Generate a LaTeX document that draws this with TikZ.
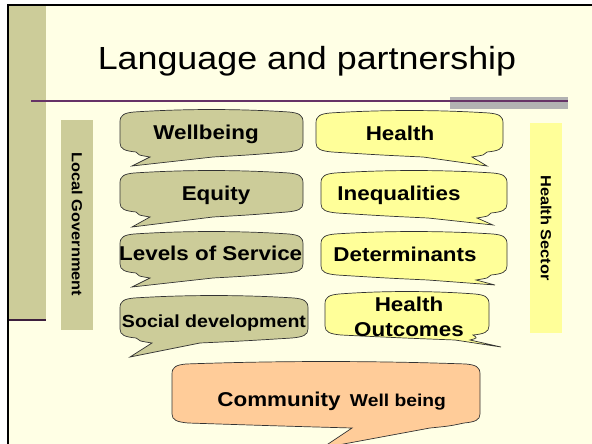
\documentclass[tikz,border=0pt]{standalone}
\usepackage{fontspec}
\setmainfont{Liberation Sans}[FakeStretch=1.12]
\usetikzlibrary{positioning}
\definecolor{slidebg}{RGB}{255,255,229}
\definecolor{govolive}{RGB}{204,204,153}
\definecolor{hlthyellow}{RGB}{255,255,153}
\definecolor{commpeach}{RGB}{255,204,153}
\definecolor{rulepurple}{RGB}{102,51,102}
\definecolor{bargray}{RGB}{178,178,178}

% speech bubble: left, top, right, bottom, right base, left base, tip x, tip y
\newcommand{\bubble}[8]{(#1,#2+12)
  .. controls (#1,#2+5) and (#1+4,#2+3) .. (#1+14,#2+2)
  .. controls ({#1+0.35*(#3-#1)},#2-1.3) and ({#3-0.35*(#3-#1)},#2-1.3) .. (#3-14,#2+2)
  .. controls (#3-4,#2+3) and (#3,#2+5) .. (#3,#2+12)
  -- (#3,#4-14)
  .. controls (#3,#4-8) and (#3-5,#4-6) .. (#3-16,#4-5)
  .. controls ({#3-0.6*(#3-#5)},#4-2) .. (#5,#4)
  -- (#7,#8) -- (#6,#4)
  .. controls ({#1+0.6*(#6-#1)},#4-2) .. (#1+16,#4-5)
  .. controls (#1+5,#4-6) and (#1,#4-8) .. (#1,#4-14)
  -- cycle}

\begin{document}
\begin{tikzpicture}[x=1pt, y=-1pt,
  bub/.style={draw=black!80, line width=0.7pt},
  govbub/.style={bub, fill=govolive},
  hlthbub/.style={bub, fill=hlthyellow},
  commbub/.style={bub, fill=commpeach},
  word/.style={anchor=base, font=\bfseries\fontsize{20}{24.3}\selectfont, align=center},
  sidebox/.style={rotate=-90, minimum width=210pt, minimum height=32pt, inner sep=0pt,
                  font=\bfseries\fontsize{14.6}{17}\selectfont}
]
\useasboundingbox (0,0) rectangle (592,444);
\clip (0,0) rectangle (592,444);

% slide background
\fill[white] (0,0) rectangle (592,444);
\fill[slidebg] (7,5) rectangle (592,444);
\fill[govolive] (8,6) rectangle (46,320);
\draw[rulepurple!60!black, line width=1.5] (8,320) -- (46,320);
\fill[bargray] (450,97) rectangle (568,109);
\draw[rulepurple, line width=1] (31,101) -- (568,101);
\draw[black, line width=2] (7.5,444) -- (7.5,5.5) -- (592,5.5);

\node[anchor=base, font=\fontsize{32}{38}\selectfont] (title) at (307,70) {Language and partnership};

% sector labels
\node[sidebox, fill=govolive] (localgov) at (77,224.5) {Local Government};
\node[sidebox, fill=hlthyellow] (hlthsector) at (546,228) {Health Sector};

% local government bubbles
\draw[govbub] \bubble{120}{110}{303}{157}{213}{150}{132}{166};
\draw[govbub] \bubble{120}{171}{303}{217}{213}{150}{132}{227};
\draw[govbub] \bubble{120}{232}{303}{278}{213}{150}{132}{287};
\draw[govbub] \bubble{120}{296}{308}{343}{200}{152}{130}{357};

% health sector bubbles
\draw[hlthbub] \bubble{316}{111}{503}{157}{472}{423}{487}{166};
\draw[hlthbub] \bubble{321}{171}{507}{218}{477}{428}{493}{225};
\draw[hlthbub] \bubble{321}{232}{507}{280}{476}{428}{495}{285};
\draw[hlthbub] \bubble{325}{292}{489}{340}{470}{455}{501}{347};

% shared outcome
\draw[commbub] \bubble{172}{362}{480}{428}{430}{352}{322}{448};

\node[word] (wellbeing) at (206,139.3) {Wellbeing};
\node[word] (equity) at (216,200.7) {Equity};
\node[word] (service) at (210.7,260) {Levels of Service};
\node[word, font=\bfseries\fontsize{17.5}{21}\selectfont] (socdev) at (214,327.7) {Social development};

\node[word] (health) at (400,140.7) {Health};
\node[word] (inequal) at (399,200.7) {Inequalities};
\node[word] (determ) at (405,261.7) {Determinants};
\node[word] (outcomes) at (409,336) {Health\\Outcomes};

\node[word, font=\bfseries\fontsize{17.2}{21}\selectfont] (community) at (331.7,406)
  {{\fontsize{20}{24}\selectfont Community}\hspace{4pt} Well being};
\end{tikzpicture}
\end{document}
